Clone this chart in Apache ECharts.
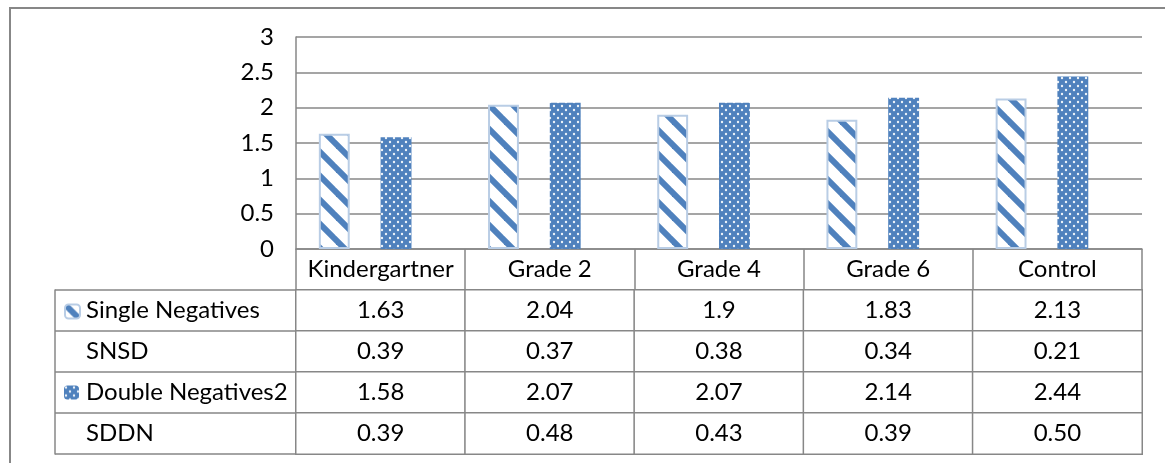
<!DOCTYPE html>
<html>
<head>
<meta charset="utf-8">
<script src="https://cdn.jsdelivr.net/npm/echarts@6/dist/echarts.min.js"></script>
<style>
  html, body { margin: 0; padding: 0; background: #fff; }
  #chart { width: 1165px; height: 463px; }
</style>
</head>
<body>
<div id="chart"></div>
<script>
// Mean scores by group, with standard deviations
const categories = ['Kindergartner', 'Grade 2', 'Grade 4', 'Grade 6', 'Control'];
const singleNegatives = [1.63, 2.04, 1.9, 1.83, 2.13];
const snsd = [0.39, 0.37, 0.38, 0.34, 0.21];
const doubleNegatives = [1.58, 2.07, 2.07, 2.14, 2.44];
const sddn = [0.39, 0.48, 0.43, 0.39, 0.50];
const rowNames = ['Single Negatives', 'SNSD', 'Double Negatives2', 'SDDN'];
const yTicks = { min: 0, max: 3, step: 0.5 };

const FONT = 'Lato, "Open Sans", sans-serif';
const LINE = '#878787';
const BLUE = '#4f81bd';
const TABLE_FONT = 24;

// Diagonal stripe fill
function stripePattern() {
  const c = document.createElement('canvas');
  const s = 24;
  c.width = s; c.height = s;
  const g = c.getContext('2d');
  g.fillStyle = '#fff';
  g.fillRect(0, 0, s, s);
  g.strokeStyle = BLUE;
  g.lineWidth = 6;
  for (const off of [-s, 0, s]) {
    g.beginPath();
    g.moveTo(-6 + off, -6);
    g.lineTo(s + 6 + off, s + 6);
    g.stroke();
  }
  return { image: c, repeat: 'repeat' };
}

// Dotted fill: white dots on blue, staggered rows
function dotPattern() {
  const c = document.createElement('canvas');
  const s = 8;
  c.width = s; c.height = s;
  const g = c.getContext('2d');
  g.fillStyle = BLUE;
  g.fillRect(0, 0, s, s);
  g.fillStyle = 'rgba(255,255,255,0.9)';
  for (const [x, y] of [[2, 2], [6, 6]]) {
    g.beginPath();
    g.arc(x, y, 1.2, 0, Math.PI * 2);
    g.fill();
  }
  return { image: c, repeat: 'repeat' };
}

const rows = [singleNegatives, snsd, doubleNegatives, sddn];
const fmt = [v => String(v), v => v.toFixed(2), v => String(v), v => v.toFixed(2)];
const cells = [];
rows.forEach((vals, r) => vals.forEach((v, c) => cells.push([c, r, v])));

const chart = echarts.init(document.getElementById('chart'));
chart.setOption({
  animation: false,
  textStyle: { fontFamily: FONT },
  graphic: [{
    type: 'rect',
    shape: { x: 10, y: 8, width: 1200, height: 500 },
    style: { fill: 'none', stroke: LINE, lineWidth: 2 },
    silent: true
  }],
  legend: [
    {
      data: ['Single Negatives'], left: 64, top: 303.5, padding: 0,
      itemWidth: 15, itemHeight: 14, selectedMode: false,
      formatter: () => '', textStyle: { fontSize: 8 }
    },
    {
      data: ['Double Negatives2'], left: 64, top: 385.5, padding: 0,
      itemWidth: 15, itemHeight: 14, selectedMode: false,
      formatter: () => '', textStyle: { fontSize: 8 }
    }
  ],
  grid: [
    { left: 296, right: 23, top: 37, bottom: 214 },
    { left: 296, right: 23, top: 290, bottom: 9 }
  ],
  xAxis: [
    {
      gridIndex: 0, type: 'category', data: categories,
      axisLine: { lineStyle: { color: LINE, width: 1.5 } },
      axisTick: { show: true, interval: 0, length: 41, lineStyle: { color: LINE, width: 1.5 } },
      axisLabel: { interval: 0, margin: 0, lineHeight: 41, fontSize: TABLE_FONT, color: '#000', fontFamily: FONT }
    },
    {
      gridIndex: 1, type: 'category', data: categories,
      axisLine: { show: false }, axisTick: { show: false }, axisLabel: { show: false }
    }
  ],
  yAxis: [
    {
      gridIndex: 0, type: 'value', min: yTicks.min, max: yTicks.max, interval: yTicks.step,
      axisLine: { show: true, lineStyle: { color: LINE, width: 1.5 } },
      axisTick: { show: false },
      splitLine: { lineStyle: { color: LINE, width: 1.5 } },
      axisLabel: { margin: 22, fontSize: 24, color: '#000', fontFamily: FONT }
    },
    {
      gridIndex: 1, type: 'category', data: rowNames, inverse: true,
      axisLine: { show: true, lineStyle: { color: LINE, width: 1.5 } },
      axisTick: { show: true, interval: 0, length: 241, lineStyle: { color: LINE, width: 1.5 } },
      axisLabel: { interval: 0, align: 'left', margin: 210, fontSize: TABLE_FONT, color: '#000', fontFamily: FONT }
    },
    {
      gridIndex: 1, type: 'category', data: rowNames, inverse: true,
      position: 'left', offset: 241,
      axisLine: { show: true, lineStyle: { color: LINE, width: 1.5 } },
      axisTick: { show: false }, axisLabel: { show: false }
    }
  ],
  series: [
    {
      name: 'Single Negatives', type: 'bar', xAxisIndex: 0, yAxisIndex: 0,
      data: singleNegatives, barGap: '0%', barCategoryGap: '27%',
      itemStyle: { color: stripePattern(), borderColor: '#b9cde5', borderWidth: 2 }
    },
    {
      name: 'SNSD', type: 'bar', xAxisIndex: 0, yAxisIndex: 0,
      data: snsd, itemStyle: { color: 'rgba(0,0,0,0)' }
    },
    {
      name: 'Double Negatives2', type: 'bar', xAxisIndex: 0, yAxisIndex: 0,
      data: doubleNegatives,
      itemStyle: { color: dotPattern(), borderColor: BLUE, borderWidth: 0 }
    },
    {
      name: 'SDDN', type: 'bar', xAxisIndex: 0, yAxisIndex: 0,
      data: sddn, itemStyle: { color: 'rgba(0,0,0,0)' }
    },
    {
      name: 'table', type: 'heatmap', xAxisIndex: 1, yAxisIndex: 1,
      data: cells,
      itemStyle: { color: '#fff', borderColor: LINE, borderWidth: 1.5 },
      label: {
        show: true, fontSize: TABLE_FONT, color: '#000', fontFamily: FONT,
        formatter: p => fmt[p.data[1]](p.data[2])
      },
      emphasis: { disabled: true }
    }
  ]
});
</script>
</body>
</html>
